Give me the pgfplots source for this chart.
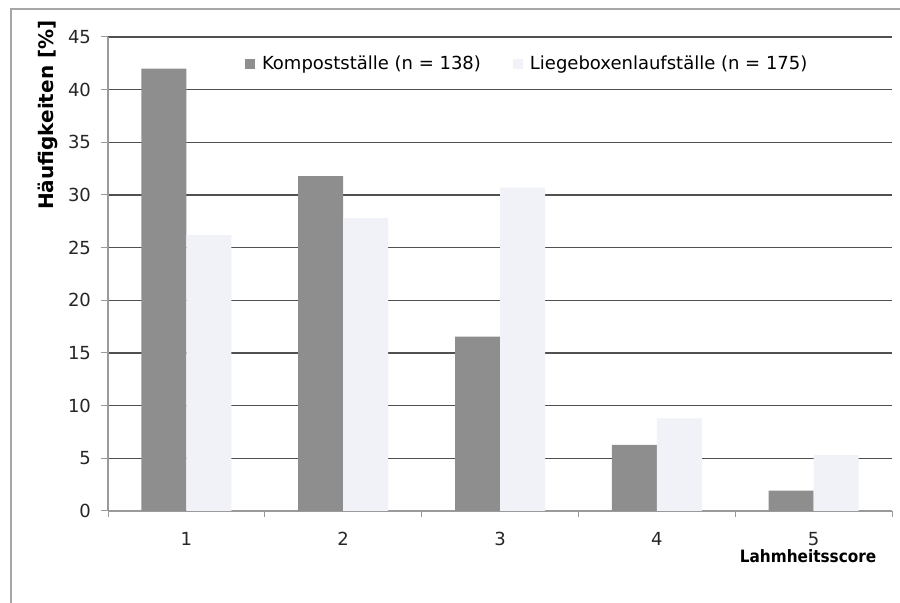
\documentclass[border=0pt]{standalone}
\usepackage{pgfplots}
\pgfplotsset{compat=1.18}
\usepackage{fontspec}
\setmainfont{DejaVu Sans Condensed}
\newfontfamily\widefont{DejaVu Sans}
\definecolor{kompost}{HTML}{8E8E8E}
\definecolor{liege}{HTML}{F1F1F8}
\definecolor{gridc}{HTML}{505050}
\definecolor{axc}{HTML}{9A9A9A}
\begin{document}
\begin{tikzpicture}
\useasboundingbox (0,0) rectangle (450pt,301.5pt);
\draw[gray!70, line width=0.6pt] (5.5pt,-5pt) -- (5.5pt,297pt) -- (455pt,297pt);
\begin{axis}[
  at={(54pt,46pt)}, anchor=south west,
  scale only axis, width=392pt, height=237pt,
  xmin=0.5, xmax=5.5, ymin=0, ymax=45,
  ybar=0pt, bar width=22.5pt,
  axis x line*=bottom, axis y line*=left,
  axis line style={axc, line width=0.6pt},
  xtick={1,2,3,4,5},
  minor xtick={0.5,1.5,2.5,3.5,4.5,5.5},
  major x tick style={draw=none},
  minor x tick style={axc, line width=0.5pt},
  minor tick length=3pt,
  ytick={0,5,...,45},
  major tick length=3.5pt,
  y tick style={axc, line width=0.5pt},
  tick align=outside,
  ymajorgrids, major grid style={gridc, line width=0.6pt},
  /pgf/number format/assume math mode=true,
  tick label style={font=\widefont\fontsize{9pt}{10pt}\selectfont, text=black!85},
  xticklabel style={yshift=-3.5pt},
  yticklabel style={xshift=-1.5pt},
  ylabel={\bfseries Häufigkeiten [\%]},
  ylabel style={at={(axis description cs:-0.076,0.835)}, anchor=center, rotate=0, font=\widefont\fontsize{10pt}{12pt}\selectfont},
  xlabel={\bfseries Lahmheitsscore},
  xlabel style={at={(axis description cs:0.893,-0.096)}, anchor=center, font=\fontsize{8.5pt}{10pt}\selectfont},
  legend columns=2,
  legend style={draw=none, fill=none, at={(axis description cs:0.536,0.943)}, anchor=center,
    font=\widefont\fontsize{9pt}{11pt}\selectfont,
    /tikz/every odd column/.append style={column sep=1.5pt},
    /tikz/every even column/.append style={column sep=14pt}},
  legend image code/.code={\fill[#1] (0pt,-2.5pt) rectangle (5pt,2.5pt);},
]
\addplot[fill=kompost, draw=none] coordinates {(1,42.0) (2,31.8) (3,16.55) (4,6.27) (5,1.93)};
\addplot[fill=liege, draw=none] coordinates {(1,26.2) (2,27.8) (3,30.7) (4,8.8) (5,5.3)};
\legend{Kompostställe (n = 138), Liegeboxenlaufställe (n = 175)}
\end{axis}
\end{tikzpicture}
\end{document}
